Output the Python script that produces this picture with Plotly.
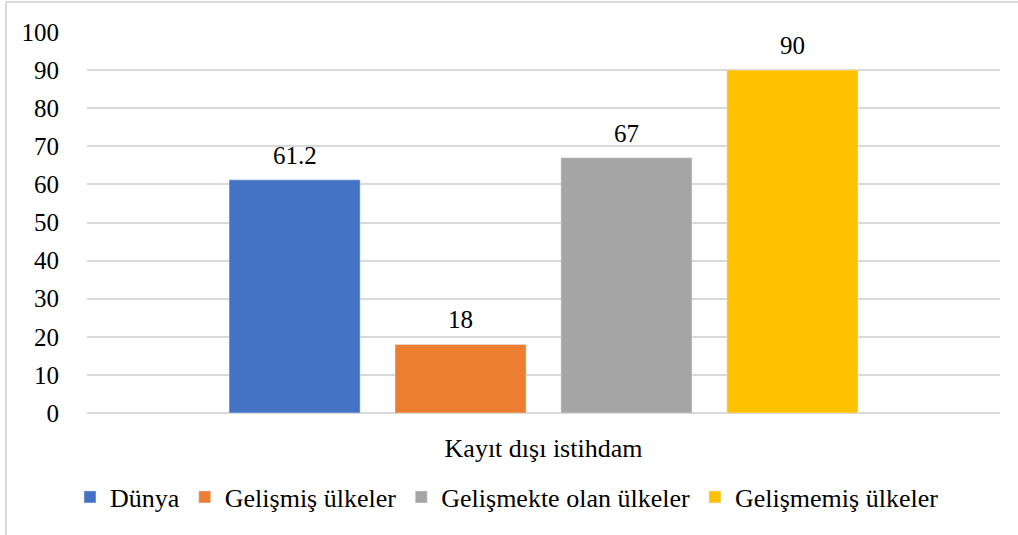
import plotly.graph_objects as go

categories = ["Kayıt dışı istihdam"]
series_names = ["Dünya", "Gelişmiş ülkeler", "Gelişmekte olan ülkeler", "Gelişmemiş ülkeler"]
series_values = [[61.2], [18], [67], [90]]
series_labels = ["61.2", "18", "67", "90"]
colors = ["#4472C4", "#ED7D31", "#A5A5A5", "#FFC000"]

FONT = "Liberation Serif, Times New Roman, serif"
BARGAP = 0.273
W, H = 1018, 535
ML, MR, MT, MB = 87, 18, 32, 122
PLOT_W = W - ML - MR
PLOT_H = H - MT - MB

fig = go.Figure()
for name, vals, col in zip(series_names, series_values, colors):
    fig.add_trace(go.Bar(x=categories, y=vals, name=name, marker_color=col))

annotations = []
n = len(series_names)
slot = PLOT_W * (1 - BARGAP) / n
for i, (vals, lab) in enumerate(zip(series_values, series_labels)):
    annotations.append(dict(
        x=categories[0], y=vals[0], xref="x", yref="y", text=lab, showarrow=False,
        xanchor="center", yanchor="bottom", xshift=(i - (n - 1) / 2) * slot, yshift=9,
        font=dict(family=FONT, size=25, color="#000000"),
    ))

def px_x(p):
    return (p - ML) / PLOT_W

def px_y(p):
    return (H - MB - p) / PLOT_H

fig.update_layout(
    width=W, height=H,
    margin=dict(l=ML, r=MR, t=MT, b=MB),
    paper_bgcolor="white", plot_bgcolor="white",
    barmode="group", bargap=BARGAP, bargroupgap=0.21,
    font=dict(family=FONT, size=25, color="#000000"),
    showlegend=True,
    legend=dict(orientation="h", x=px_x(70), xanchor="left", y=px_y(497), yanchor="middle",
                font=dict(family=FONT, size=26, color="#000000"), itemwidth=30,
                traceorder="normal"),
    xaxis=dict(showgrid=False, showline=False, zeroline=False,
               ticks="outside", ticklen=12, tickcolor="rgba(0,0,0,0)",
               tickfont=dict(family=FONT, size=26, color="#000000")),
    yaxis=dict(range=[0, 100], dtick=10, showgrid=True, gridcolor="#D9D9D9", gridwidth=1.5,
               zeroline=True, zerolinecolor="#D9D9D9", zerolinewidth=1.5,
               ticks="outside", ticklen=22, tickcolor="rgba(0,0,0,0)",
               tickfont=dict(family=FONT, size=25, color="#000000")),
    annotations=annotations,
    shapes=[
        dict(type="line", xref="paper", yref="paper",
             x0=px_x(6), x1=px_x(1040), y0=px_y(2), y1=px_y(2),
             line=dict(color="#D9D9D9", width=2)),
        dict(type="line", xref="paper", yref="paper",
             x0=px_x(6), x1=px_x(6), y0=px_y(2), y1=px_y(560),
             line=dict(color="#D9D9D9", width=2)),
    ],
)

fig.write_html("out.html", config={"displayModeBar": False},
               post_script="document.body.style.margin='0';")
